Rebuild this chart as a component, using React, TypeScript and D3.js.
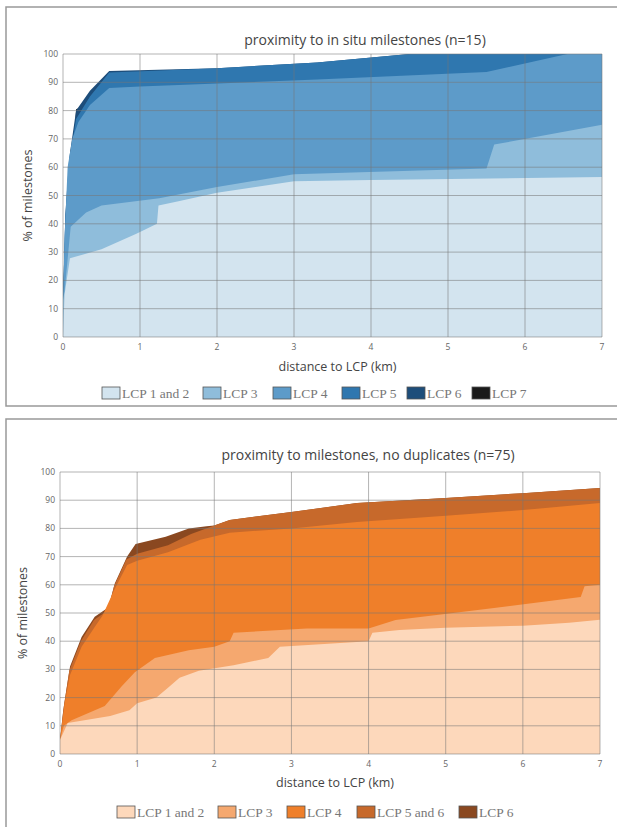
import React from "react";
import * as d3 from "d3";

// ---------- DATA ----------
const xTicks = [0, 1, 2, 3, 4, 5, 6, 7];
const yTicks = [0, 10, 20, 30, 40, 50, 60, 70, 80, 90, 100];

const topTitle = "proximity to in situ milestones (n=15)";
const topNames = ["LCP 1 and 2", "LCP 3", "LCP 4", "LCP 5", "LCP 6", "LCP 7"];
const topColors = ["#d3e4ef", "#8fbddb", "#5d9bc9", "#2f77af", "#1d4d7a", "#1a1a1a"];

const topLCP12: [number, number][] = [[0, 0], [0.02, 15], [0.09, 27.8], [0.5, 31], [0.96, 36.6], [1.22, 40], [1.24, 46.5], [1.5, 48], [2, 51], [2.5, 53], [3, 55], [4, 55.5], [7, 56.5]];
const topLCP3: [number, number][] = [[0, 13], [0.02, 16], [0.1, 39], [0.3, 44], [0.5, 46.5], [1.25, 49], [2, 53], [3, 57.5], [5.5, 59.5], [5.6, 68], [7, 75]];
const topLCP4: [number, number][] = [[0, 13], [0.02, 35], [0.06, 60], [0.12, 70], [0.2, 76], [0.35, 82], [0.6, 88], [1, 88.5], [3.3, 91], [5.5, 93.6], [6.55, 100], [7, 100]];
const topLCP5: [number, number][] = [[0, 13], [0.03, 42], [0.08, 62], [0.17, 77], [0.35, 85], [0.6, 93.5], [2, 95], [3.3, 97], [4.5, 100], [7, 100]];
const topLCP6: [number, number][] = [[0, 13], [0.03, 43], [0.08, 63], [0.17, 80], [0.35, 87], [0.6, 94], [2, 95], [3.3, 97], [4.5, 100], [7, 100]];
const topLCP7: [number, number][] = [[0, 13], [0.04, 45], [0.1, 66], [0.15, 72], [0.17, 80.5], [0.3, 82], [0.6, 93], [2, 94], [7, 94]];
const topSeries = [topLCP12, topLCP3, topLCP4, topLCP5, topLCP6, topLCP7];

const botTitle = "proximity to milestones, no duplicates (n=75)";
const botNames = ["LCP 1 and 2", "LCP 3", "LCP 4", "LCP 5 and 6", "LCP 6"];
const botColors = ["#fdd8bb", "#f5a86f", "#ef7f2a", "#c7692b", "#8a4820"];

const botLCP12: [number, number][] = [[0, 5], [0.1, 11], [0.65, 13.5], [0.9, 15.5], [1.0, 18], [1.25, 20], [1.4, 23.5], [1.55, 27], [1.8, 29.5], [2.25, 31.5], [2.7, 34], [2.85, 38], [4.0, 40], [4.05, 43], [4.4, 44], [5, 44.8], [6, 45.5], [6.6, 46.5], [7, 47.6]];
const botLCP3: [number, number][] = [[0, 5], [0.05, 10], [0.15, 12], [0.58, 17], [0.8, 24], [0.97, 29], [1.23, 34], [1.67, 36.8], [2, 38], [2.2, 40], [2.25, 43], [3.2, 44.5], [4.0, 44.5], [4.35, 47.5], [5.6, 51.7], [6.75, 55.7], [6.8, 59.5], [7, 60]];
const botLCP4: [number, number][] = [[0, 5], [0.06, 18], [0.13, 28], [0.28, 38], [0.45, 45], [0.55, 49], [0.7, 58], [0.87, 67], [1.0, 68.5], [1.4, 71.5], [1.82, 76], [2.2, 78.5], [3, 80], [3.85, 82.3], [5, 84.5], [6, 86.5], [7, 89]];
const botLCP56: [number, number][] = [[0, 5], [0.05, 17], [0.12, 29.5], [0.27, 40], [0.44, 47.5], [0.62, 51], [0.7, 59.5], [0.86, 69], [1.0, 71], [1.4, 74], [1.7, 78], [2.0, 81], [2.2, 83], [3, 85.8], [3.85, 89], [5, 90.8], [6, 92.5], [7, 94.3]];
const botLCP6: [number, number][] = [[0, 5], [0.04, 15], [0.065, 19.5], [0.13, 31], [0.28, 41.5], [0.45, 48.7], [0.63, 52], [0.71, 60.5], [0.87, 70], [0.98, 74.5], [1.37, 77], [1.67, 80], [1.9, 80.8], [2.0, 81], [2.2, 83], [3, 85.8], [3.85, 89], [5, 90.8], [6, 92.5], [7, 94.3]];
const botSeries = [botLCP12, botLCP3, botLCP4, botLCP56, botLCP6];

const xLabel = "distance to LCP (km)";
const yLabel = "% of milestones";

type PanelProps = {
  title: string;
  titleX: number;
  titleY: number;
  names: string[];
  colors: string[];
  series: [number, number][][];
  left: number;
  right: number;
  top: number;
  bottom: number;
  yTitleX: number;
  xTitleY: number;
  legendY: number;
  legendX: number[];
  id: string;
};

function Panel(p: PanelProps) {
  const x = d3.scaleLinear().domain([0, 7]).range([p.left, p.right]);
  const y = d3.scaleLinear().domain([0, 100]).range([p.bottom, p.top]);
  const area = d3
    .area<[number, number]>()
    .x((d) => x(d[0]))
    .y0(y(0))
    .y1((d) => y(d[1]))
    .curve(d3.curveLinear);
  const order = p.series.map((_, i) => i).reverse();
  const tickFont = "'Open Sans', 'DejaVu Sans', sans-serif";
  return (
    <g>
      <defs>
        <clipPath id={"clip" + p.id}>
          <rect x={p.left} y={p.top} width={p.right - p.left} height={p.bottom - p.top} />
        </clipPath>
      </defs>
      <rect x={p.left} y={p.top} width={p.right - p.left} height={p.bottom - p.top} fill="#fff" />
      <g clipPath={`url(#clip${p.id})`}>
        {order.map((i) => (
          <path key={i} d={area(p.series[i]) || ""} fill={p.colors[i]} />
        ))}
      </g>
      {yTicks.map((t) => (
        <line key={"h" + t} x1={p.left} x2={p.right} y1={y(t)} y2={y(t)} stroke="#777" strokeOpacity={0.55} strokeWidth={1} />
      ))}
      {xTicks.map((t) => (
        <line key={"v" + t} x1={x(t)} x2={x(t)} y1={p.top} y2={p.bottom} stroke="#777" strokeOpacity={0.55} strokeWidth={1} />
      ))}
      {yTicks.map((t) => (
        <text key={"yl" + t} x={p.left - 5} y={y(t) + 3} fontSize={8.5} fontFamily={tickFont} fill="#666" textAnchor="end">
          {t}
        </text>
      ))}
      {xTicks.map((t) => (
        <text key={"xl" + t} x={x(t)} y={p.bottom + 13} fontSize={8.5} fontFamily={tickFont} fill="#666" textAnchor="middle">
          {t}
        </text>
      ))}
      <text x={p.titleX} y={p.titleY} fontSize={14} fontFamily={tickFont} fill="#444" textAnchor="middle">
        {p.title}
      </text>
      <text x={(p.left + p.right) / 2 + 5} y={p.xTitleY} fontSize={12.5} fontFamily={tickFont} fill="#444" textAnchor="middle">
        {xLabel}
      </text>
      <text
        transform={`translate(${p.yTitleX},${(p.top + p.bottom) / 2}) rotate(-90)`}
        fontSize={12.5}
        fontFamily={tickFont}
        fill="#444"
        textAnchor="middle"
      >
        {yLabel}
      </text>
      {p.names.map((n, i) => (
        <g key={"lg" + i}>
          <rect x={p.legendX[i]} y={p.legendY - 6} width={18} height={12} fill={p.colors[i]} stroke="#555" strokeWidth={0.8} />
          <text x={p.legendX[i] + 20} y={p.legendY + 5} fontSize={13.5} fontFamily="'Liberation Serif', 'DejaVu Serif', serif" fill="#777">
            {n}
          </text>
        </g>
      ))}
    </g>
  );
}

export default function App() {
  return (
    <svg width={617} height={827} style={{ position: "absolute", left: 0, top: 0, background: "#fff" }}>
      <rect x={0} y={0} width={617} height={827} fill="#fff" />
      <rect x={6} y={7} width={620} height={399} fill="#fff" stroke="#999" strokeWidth={1.5} />
      <rect x={6} y={419} width={620} height={420} fill="#fff" stroke="#999" strokeWidth={1.5} />
      <Panel
        id="a"
        title={topTitle}
        titleX={365}
        titleY={45}
        names={topNames}
        colors={topColors}
        series={topSeries}
        left={63}
        right={602}
        top={54}
        bottom={337}
        yTitleX={32}
        xTitleY={371}
        legendY={393}
        legendX={[102, 203, 273, 342, 407, 472]}
      />
      <Panel
        id="b"
        title={botTitle}
        titleX={368}
        titleY={460}
        names={botNames}
        colors={botColors}
        series={botSeries}
        left={60}
        right={600}
        top={472}
        bottom={754}
        yTitleX={27}
        xTitleY={787}
        legendY={812}
        legendX={[117, 218, 287, 357, 459]}
      />
    </svg>
  );
}
